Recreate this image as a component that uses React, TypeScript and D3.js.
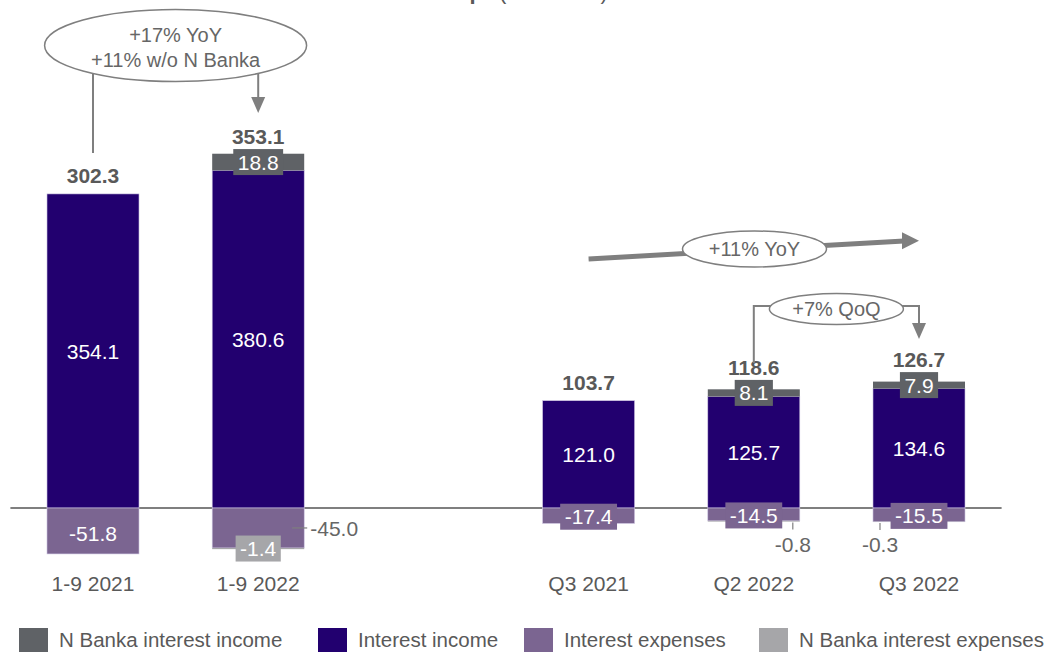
import React from 'react';
import * as d3 from 'd3';

// values in EUR m
const categories = ['1-9 2021', '1-9 2022', 'Q3 2021', 'Q2 2022', 'Q3 2022'];
const nBankaIncome = [0, 18.8, 0, 8.1, 7.9];
const interestIncome = [354.1, 380.6, 121.0, 125.7, 134.6];
const interestExpenses = [-51.8, -45.0, -17.4, -14.5, -15.5];
const nBankaExpenses = [0, -1.4, 0, -0.8, -0.3];
const totals = [302.3, 353.1, 103.7, 118.6, 126.7];

const legendLabels = ['N Banka interest income', 'Interest income', 'Interest expenses', 'N Banka interest expenses'];

const W = 1054;
const H = 655;
const FONT = 'Arial, "Liberation Sans", Helvetica, sans-serif';
const FS = 21;

const colors = {
    nb: '#5f6266',
    ii: '#22006f',
    ie: '#7b6591',
    nbe: '#a6a6a9',
    text: '#595959',
    line: '#7f7f7f',
};
const legendColors = [colors.nb, colors.ii, colors.ie, colors.nbe];
const legendX = [19, 318, 524, 759];

// slot between the 9-month and the quarterly groups
const slots = [categories[0], categories[1], 'gap', categories[2], categories[3], categories[4]];

const x = d3.scaleBand<string>()
    .domain(slots)
    .range([10.4, 1001.6])
    .paddingInner(0.443)
    .paddingOuter(0.2215);

const y = d3.scaleLinear().domain([0, 100]).range([508, 508 - 88.7]);

const fmt = (v: number) => v.toFixed(1);

// rough Arial width, used for the label boxes
const textWidth = (s: string, size = FS) => {
    let w = 0;
    for (const c of s) w += c === '.' ? 0.278 : c === '-' ? 0.333 : 0.556;
    return w * size;
};

const BoxLabel = ({ cx, cy, text, fill }: { cx: number; cy: number; text: string; fill: string }) => {
    const w = textWidth(text) + 9;
    return (
        <g>
            <rect x={cx - w / 2} y={cy - 13} width={w} height={26} fill={fill} />
            <text x={cx} y={cy} dy="0.36em" textAnchor="middle" fill="#fff" fontSize={FS}>{text}</text>
        </g>
    );
};

const Arrow = ({ tipX, tipY, dir }: { tipX: number; tipY: number; dir: 'down' | 'right' }) => {
    if (dir === 'down') {
        return <polygon points={`${tipX - 7},${tipY - 16} ${tipX + 7},${tipY - 16} ${tipX},${tipY}`} fill={colors.line} />;
    }
    return <polygon points={`${tipX - 17},${tipY - 8.5} ${tipX - 17},${tipY + 8.5} ${tipX},${tipY}`} fill={colors.line} />;
};

export default function App() {
    const bw = x.bandwidth();
    const cx = (c: string) => (x(c) as number) + bw / 2;

    const bars = categories.map((c, i) => {
        const left = x(c) as number;
        const ii = interestIncome[i];
        const nb = nBankaIncome[i];
        const ie = interestExpenses[i];
        const nbe = nBankaExpenses[i];
        const top = y(ii + nb);
        const nbMid = (y(ii) + y(ii + nb)) / 2;
        const ieMid = (y(0) + y(ie)) / 2;
        const nbeMid = (y(ie) + y(ie + nbe)) / 2;
        const totalY = nb > 0 ? nbMid - 13 - 5 : top - 11;
        const ieH = y(ie) - y(0);
        const center = cx(c);
        return (
            <g key={c}>
                <rect x={left} y={y(ii)} width={bw} height={y(0) - y(ii)} fill={colors.ii} stroke="#cfc6e2" strokeWidth={0.6} />
                {nb > 0 && <rect x={left} y={y(ii + nb)} width={bw} height={y(ii) - y(ii + nb)} fill={colors.nb} />}
                <rect x={left} y={y(0)} width={bw} height={ieH} fill={colors.ie} stroke="#cfc6e2" strokeWidth={0.6} />
                {nbe < 0 && <rect x={left} y={y(ie)} width={bw} height={y(ie + nbe) - y(ie)} fill={colors.nbe} />}

                <text x={center} y={(y(0) + y(ii)) / 2} dy="0.36em" textAnchor="middle" fill="#fff" fontSize={FS}>{fmt(ii)}</text>
                {nb > 0 && <BoxLabel cx={center} cy={nbMid} text={fmt(nb)} fill={colors.nb} />}

                {nbe <= -1 ? (
                    <g>
                        <line x1={left + bw - 12} x2={left + bw + 3} y1={ieMid} y2={ieMid} stroke={colors.line} strokeWidth={1.2} />
                        <text x={left + bw + 6} y={ieMid} dy="0.36em" fill="#666" fontSize={FS}>{fmt(ie)}</text>
                    </g>
                ) : ieH < 30 ? (
                    <BoxLabel cx={center} cy={ieMid + 1} text={fmt(ie)} fill={colors.ie} />
                ) : (
                    <text x={center} y={ieMid + 2} dy="0.36em" textAnchor="middle" fill="#fff" fontSize={FS}>{fmt(ie)}</text>
                )}

                {nbe <= -1 && <BoxLabel cx={center} cy={nbeMid} text={fmt(nbe)} fill={colors.nbe} />}
                {nbe < 0 && nbe > -1 && (() => {
                    const tx = c === 'Q2 2022' ? left + bw - 7 : left + 7;
                    return (
                        <g>
                            <line x1={tx} x2={tx} y1={y(ie + nbe) + 1} y2={y(ie + nbe) + 8} stroke={colors.line} strokeWidth={1.2} />
                            <text x={tx} y={552} textAnchor="middle" fill="#666" fontSize={FS}>{fmt(nbe)}</text>
                        </g>
                    );
                })()}

                <text x={center} y={totalY} textAnchor="middle" fill={colors.text} fontSize={FS} fontWeight="bold">{fmt(totals[i])}</text>
                <text x={center} y={591} textAnchor="middle" fill={colors.text} fontSize={FS}>{c}</text>
            </g>
        );
    });

    // annotation anchors
    const a0 = cx(categories[0]);
    const a1 = cx(categories[1]);
    const q1 = cx(categories[2]);
    const q2 = cx(categories[3]);
    const q3 = cx(categories[4]);
    const yoyCx = (a0 + a1) / 2;
    const qoqCx = (q2 + q3) / 2;

    return (
        <div style={{ position: 'fixed', left: 0, top: 0 }}>
            <svg width={W} height={H} style={{ display: 'block', fontFamily: FONT }}>
                <rect width={W} height={H} fill="#fff" />

                {/* title, mostly cut off at the top edge */}
                <text x={483} y={-1} textAnchor="end" fill={colors.text} fontSize={22} fontWeight="bold">Net interest income of NLB Group</text>
                <text x={499} y={-1} fill={colors.text} fontSize={22}>(in EUR m)</text>

                <line x1={x.range()[0]} x2={x.range()[1]} y1={y(0)} y2={y(0)} stroke={colors.line} strokeWidth={2} />
                {bars}

                {/* 9M YoY */}
                <line x1={a0} x2={a0} y1={70} y2={153} stroke={colors.line} strokeWidth={2} />
                <line x1={a1} x2={a1} y1={70} y2={100} stroke={colors.line} strokeWidth={2} />
                <Arrow tipX={a1} tipY={113} dir="down" />
                <ellipse cx={yoyCx} cy={45.5} rx={131} ry={36} fill="#fff" stroke={colors.line} strokeWidth={1.5} />
                <text x={yoyCx} y={42} textAnchor="middle" fill="#666" fontSize={20}>+17% YoY</text>
                <text x={yoyCx} y={67} textAnchor="middle" fill="#666" fontSize={20}>+11% w/o N Banka</text>

                {/* quarterly YoY trend */}
                <line x1={q1} y1={259} x2={q3 - 15} y2={240.9} stroke={colors.line} strokeWidth={5} />
                <Arrow tipX={q3} tipY={240.7} dir="right" />
                <ellipse cx={754.5} cy={249} rx={72} ry={18} fill="#fff" stroke={colors.line} strokeWidth={1.5} />
                <text x={754.5} y={249} dy="0.36em" textAnchor="middle" fill="#666" fontSize={20}>+11% YoY</text>

                {/* QoQ */}
                <polyline points={`${q2},363 ${q2},306 ${qoqCx - 60},306`} fill="none" stroke={colors.line} strokeWidth={2} />
                <polyline points={`${qoqCx + 60},306 ${q3},306 ${q3},325`} fill="none" stroke={colors.line} strokeWidth={2} />
                <Arrow tipX={q3} tipY={339} dir="down" />
                <ellipse cx={qoqCx} cy={309} rx={67} ry={15.5} fill="#fff" stroke={colors.line} strokeWidth={1.5} />
                <text x={qoqCx} y={309} dy="0.36em" textAnchor="middle" fill="#666" fontSize={20}>+7% QoQ</text>

                {/* legend */}
                {legendLabels.map((l, i) => (
                    <g key={l} transform={`translate(${legendX[i]},628)`}>
                        <rect width={29} height={24} fill={legendColors[i]} />
                        <text x={40} y={19} fill={colors.text} fontSize={20.5}>{l}</text>
                    </g>
                ))}
            </svg>
        </div>
    );
}
